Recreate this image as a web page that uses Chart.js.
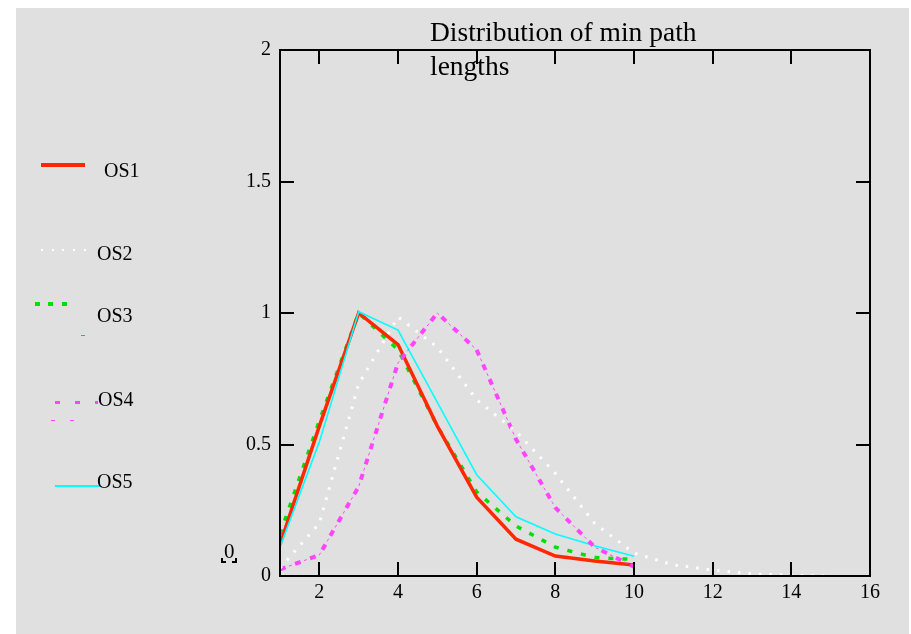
<!DOCTYPE html>
<html><head><meta charset="utf-8">
<script src="https://cdn.jsdelivr.net/npm/chart.js@4/dist/chart.umd.min.js"></script>
<style>
html,body{margin:0;padding:0;background:#fff;width:911px;height:634px;overflow:hidden;}
#bg{position:absolute;left:16px;top:8px;width:893px;height:626px;background:#e0e0e0;}
#wrap{position:absolute;left:0;top:0;width:911px;height:634px;}
.t{position:absolute;font-family:"Liberation Serif","Times New Roman",serif;color:#000;white-space:nowrap;line-height:1;}
.s{position:absolute;}
</style></head>
<body>
<div id="bg"></div>
<div id="wrap"><canvas id="c" width="911" height="634"></canvas></div>

<div class="t" style="left:430px;top:18px;font-size:27.5px;">Distribution of min path</div>
<div class="t" style="left:430px;top:52px;font-size:27.5px;">lengths</div>

<div class="s" style="left:41px;top:163px;width:44px;height:4px;background:#ff2800;"></div>
<div class="t" style="left:104px;top:160px;font-size:20px;">OS1</div>

<div class="s" style="left:41px;top:249px;width:46px;height:2px;background:repeating-linear-gradient(to right,#fff 0 2px,transparent 2px 10.7px);"></div>
<div class="t" style="left:97px;top:243px;font-size:20px;">OS2</div>

<div class="s" style="left:35px;top:302px;width:34px;height:4px;background:repeating-linear-gradient(to right,#00e000 0 5px,transparent 5px 13.5px);"></div>
<div class="s" style="left:81px;top:335px;width:4px;height:1px;background:#00e000;"></div>
<div class="t" style="left:97px;top:305px;font-size:20px;">OS3</div>

<div class="s" style="left:55px;top:401px;width:43px;height:3px;background:repeating-linear-gradient(to right,#ff44ff 0 5px,transparent 5px 20px);"></div>
<div class="s" style="left:51px;top:420px;width:4px;height:1px;background:#ff44ff;"></div>
<div class="s" style="left:70px;top:420px;width:4px;height:1px;background:#ff44ff;"></div>
<div class="t" style="left:98px;top:389px;font-size:20px;">OS4</div>

<div class="s" style="left:55px;top:485px;width:45px;height:2px;background:#00ffff;"></div>
<div class="t" style="left:97px;top:471px;font-size:20px;">OS5</div>

<div class="t" style="left:224px;top:541px;font-size:21px;">0</div>
<div class="s" style="left:221px;top:558px;width:3px;height:3px;border-left:2px solid #000;border-bottom:2px solid #000;"></div>
<div class="s" style="left:232px;top:558px;width:3px;height:3px;border-right:2px solid #000;border-bottom:2px solid #000;"></div>

<script>
// ---- data ----
const xShort = [1, 2, 3, 4, 5, 6, 7, 8, 9, 10];
const xLong  = [1, 2, 3, 4, 5, 6, 7, 8, 9, 10, 11, 12, 13, 14, 15];
const os1 = [0.12, 0.57, 1.0, 0.88, 0.57, 0.30, 0.14, 0.076, 0.057, 0.042];
const os2 = [0.03, 0.20, 0.73, 0.985, 0.87, 0.67, 0.55, 0.39, 0.20, 0.087, 0.042, 0.023, 0.008, 0.003, 0.0];
const os3 = [0.16, 0.59, 1.0, 0.86, 0.57, 0.32, 0.19, 0.11, 0.07, 0.063];
const os4 = [0.025, 0.08, 0.34, 0.81, 1.0, 0.86, 0.52, 0.26, 0.11, 0.035];
const os5 = [0.11, 0.51, 1.005, 0.935, 0.66, 0.385, 0.225, 0.16, 0.115, 0.075];
const xTickVals = [2, 4, 6, 8, 10, 12, 14, 16];
const yTickVals = [0, 0.5, 1, 1.5, 2];
const yTickLabels = ['0', '0.5', '1', '1.5', '2'];

const pts = (xs, ys) => xs.map((x, i) => ({x: x, y: ys[i]}));

const framePlugin = {
  id: 'frame',
  afterDraw(chart) {
    const ctx = chart.ctx, a = chart.chartArea;
    const sx = chart.scales.x, sy = chart.scales.y;
    ctx.save();
    ctx.strokeStyle = '#000';
    ctx.lineWidth = 2;
    ctx.strokeRect(a.left, a.top, a.right - a.left, a.bottom - a.top);
    ctx.beginPath();
    const L = 14;
    xTickVals.forEach(v => {
      const px = Math.round(sx.getPixelForValue(v));
      ctx.moveTo(px, a.bottom); ctx.lineTo(px, a.bottom - L);
      ctx.moveTo(px, a.top); ctx.lineTo(px, a.top + L);
    });
    yTickVals.forEach(v => {
      const py = Math.round(sy.getPixelForValue(v));
      ctx.moveTo(a.left, py); ctx.lineTo(a.left + L, py);
      ctx.moveTo(a.right, py); ctx.lineTo(a.right - L, py);
    });
    ctx.stroke();
    ctx.restore();
  }
};

const font = {family: '"Liberation Serif","Times New Roman",serif', size: 20};

new Chart(document.getElementById('c'), {
  type: 'line',
  data: {
    datasets: [
      {label: 'OS2', data: pts(xLong, os2), borderColor: '#ffffff', borderWidth: 3, borderDash: [2.5, 8]},
      {label: 'OS4', data: pts(xShort, os4), borderColor: '#ff44ff', borderWidth: 4, borderDash: [6, 10]},
      {label: 'OS4b', data: pts(xShort, os4), borderColor: '#ff44ff', borderWidth: 1, borderDash: [3, 13], borderDashOffset: 6.5},
      {label: 'OS5', data: pts(xShort, os5), borderColor: '#00ffff', borderWidth: 1.6},
      {label: 'OS1', data: pts(xShort, os1), borderColor: '#ff2800', borderWidth: 3.5},
      {label: 'OS3', data: pts(xShort, os3), borderColor: '#00e000', borderWidth: 3.5, borderDash: [5, 9]}
    ]
  },
  options: {
    responsive: false,
    animation: false,
    layout: {padding: {left: 220, right: 41, top: 50, bottom: 18}},
    elements: {point: {radius: 0}, line: {tension: 0, fill: false, borderCapStyle: 'butt'}},
    plugins: {legend: {display: false}, title: {display: false}, tooltip: {enabled: false}},
    scales: {
      x: {
        type: 'linear', min: 1, max: 16,
        afterBuildTicks: s => { s.ticks = xTickVals.map(v => ({value: v})); },
        afterFit: s => { s.height = 40; },
        grid: {display: false, drawTicks: false},
        border: {display: false},
        ticks: {font: font, color: '#000', padding: 5, maxRotation: 0, autoSkip: false,
                callback: v => String(v)}
      },
      y: {
        type: 'linear', min: 0, max: 2,
        afterBuildTicks: s => { s.ticks = yTickVals.map(v => ({value: v})); },
        afterFit: s => { s.width = 60; },
        grid: {display: false, drawTicks: false},
        border: {display: false},
        ticks: {font: font, color: '#000', padding: 9,
                callback: (v) => yTickLabels[yTickVals.indexOf(v)] ?? String(v)}
      }
    }
  },
  plugins: [framePlugin]
});
</script>
</body></html>
